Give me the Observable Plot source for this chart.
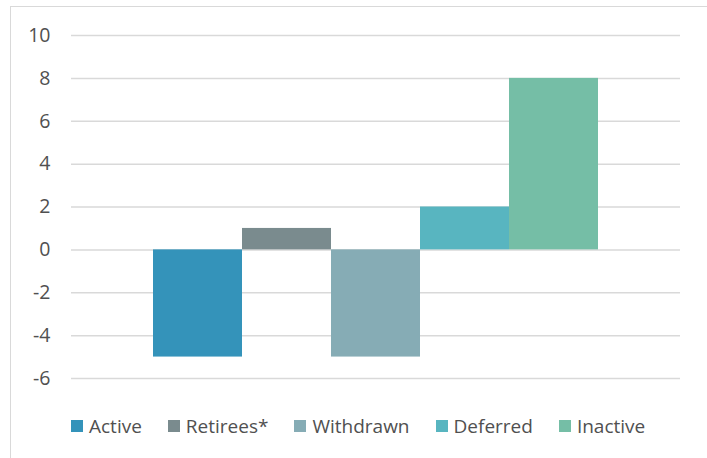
<!DOCTYPE html>
<html>
<head>
<meta charset="utf-8">
<script src="https://cdn.jsdelivr.net/npm/d3@7"></script>
<script src="https://cdn.jsdelivr.net/npm/@observablehq/plot@0.6"></script>
<style>
  html, body { margin: 0; padding: 0; background: #fff; }
  body { width: 707px; height: 458px; position: relative; overflow: hidden; font-family: "Open Sans", sans-serif; }
  #frame { position: absolute; left: 10px; top: 6px; width: 800px; height: 600px; border-left: 1.5px solid #d9d9d9; border-top: 1.5px solid #d9d9d9; box-sizing: border-box; }
  #chart { position: absolute; left: 0; top: 0; }
  #legend { position: absolute; left: 71px; top: 413px; display: flex; align-items: center; gap: 26px; font-size: 19px; color: #505050; }
  #legend .item { display: flex; align-items: center; }
  #legend .sw { width: 12px; height: 12px; margin-right: 6px; }
</style>
</head>
<body>
<div id="frame"></div>
<div id="chart"></div>
<div id="legend"></div>
<script>
const categories = ["Active", "Retirees*", "Withdrawn", "Deferred", "Inactive"];
const values = [-5, 1, -5, 2, 8];
const colors = ["#3493BA", "#7A8B8E", "#86ACB5", "#58B5C0", "#75BEA6"];
const yTicks = [-6, -4, -2, 0, 2, 4, 6, 8, 10];

const data = categories.map((c, i) => ({category: c, value: values[i]}));

const chart = Plot.plot({
  width: 707,
  height: 400,
  marginLeft: 71,
  marginRight: 27,
  marginTop: 35,
  marginBottom: 22,
  style: {fontFamily: "Open Sans, sans-serif", fontSize: "19px", color: "#505050", background: "transparent"},
  x: {type: "band", domain: categories, paddingInner: 0, paddingOuter: 0.9, axis: null},
  y: {domain: [-6, 10], ticks: yTicks},
  color: {domain: categories, range: colors},
  marks: [
    Plot.ruleY(yTicks, {stroke: "#d9d9d9", strokeWidth: 1.5}),
    Plot.barY(data, {x: "category", y: "value", fill: "category"}),
    Plot.axisY({ticks: yTicks, tickSize: 0, tickPadding: 21, label: null, fill: "#505050", fontSize: 19.5, tickFormat: d => String(d)})
  ]
});
document.getElementById("chart").appendChild(chart);

const legend = document.getElementById("legend");
categories.forEach((c, i) => {
  const item = document.createElement("div");
  item.className = "item";
  const sw = document.createElement("span");
  sw.className = "sw";
  sw.style.background = colors[i];
  const label = document.createElement("span");
  label.textContent = c;
  item.appendChild(sw);
  item.appendChild(label);
  legend.appendChild(item);
});
</script>
</body>
</html>
